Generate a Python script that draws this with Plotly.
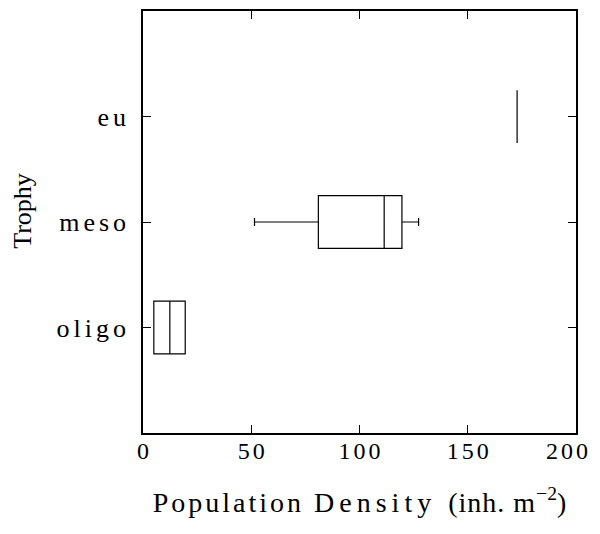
import plotly.graph_objects as go

categories = ["oligo", "meso", "eu"]
positions = [1, 2, 3]
lower_whisker = [5.0, 51.5, 172.8]
q1_vals = [5.0, 81.0, 172.8]
median_vals = [12.4, 111.4, 172.8]
q3_vals = [19.5, 119.6, 172.8]
upper_whisker = [19.5, 127.3, 172.8]
x_ticks = [0, 50, 100, 150, 200]

FONT = "Liberation Serif"


def spaced(text, px):
    return '<span style="letter-spacing:{}px">{}</span>'.format(px, text)


def spaced_inner(text, px):
    # letter spacing between characters only (none after the last one)
    if len(text) < 2:
        return text
    return spaced(text[:-1], px) + text[-1]


x_ticktext = [spaced_inner(str(v), 3) for v in x_ticks]
# the last label sits slightly inside the right edge, as in the original
x_ticktext[-1] = x_ticktext[-1] + "&nbsp;&nbsp;&nbsp;"

fig = go.Figure()
fig.add_trace(go.Box(
    y=positions,
    q1=q1_vals,
    median=median_vals,
    q3=q3_vals,
    lowerfence=lower_whisker,
    upperfence=upper_whisker,
    orientation="h",
    width=0.5,
    whiskerwidth=0.15,
    line=dict(color="black", width=1.2),
    fillcolor="white",
    boxpoints=False,
    hoverinfo="skip",
    showlegend=False,
))

title_x = (spaced("Population&nbsp;", 3) + spaced("Density&nbsp;", 5)
           + spaced("(inh.&nbsp;m", 1) + "<sup>−2</sup>" + ")")

fig.add_annotation(
    text="Trophy", textangle=-90, xref="paper", yref="paper",
    x=-0.280, y=0.526, xanchor="center", yanchor="middle",
    showarrow=False, font=dict(family=FONT, size=26, color="black"),
)

fig.update_layout(
    width=592, height=518,
    margin=dict(l=135, r=24, t=3, b=93, autoexpand=False),
    paper_bgcolor="white", plot_bgcolor="white",
    font=dict(family=FONT, color="black", size=22),
    xaxis=dict(
        range=[0, 200], tickvals=x_ticks,
        ticktext=x_ticktext,
        ticks="inside", ticklen=8, automargin=False,
        tickcolor="black", tickwidth=1, showline=True, linecolor="black",
        linewidth=1.5, mirror="ticks", showgrid=False, zeroline=False,
        tickfont=dict(size=24), ticklabelstandoff=-5,
        ticklabeloverflow="allow",
        title=dict(text=title_x, font=dict(size=28), standoff=30),
    ),
    yaxis=dict(
        range=[0, 4], tickvals=positions,
        ticktext=[spaced(c, 4) for c in categories],
        ticks="inside", ticklen=8, tickcolor="black", tickwidth=1,
        showline=True, linecolor="black", linewidth=1.5, mirror="ticks",
        showgrid=False, zeroline=False, tickfont=dict(size=26),
        ticklabelstandoff=6, automargin=False,
    ),
)

fig.write_html("out.html")
